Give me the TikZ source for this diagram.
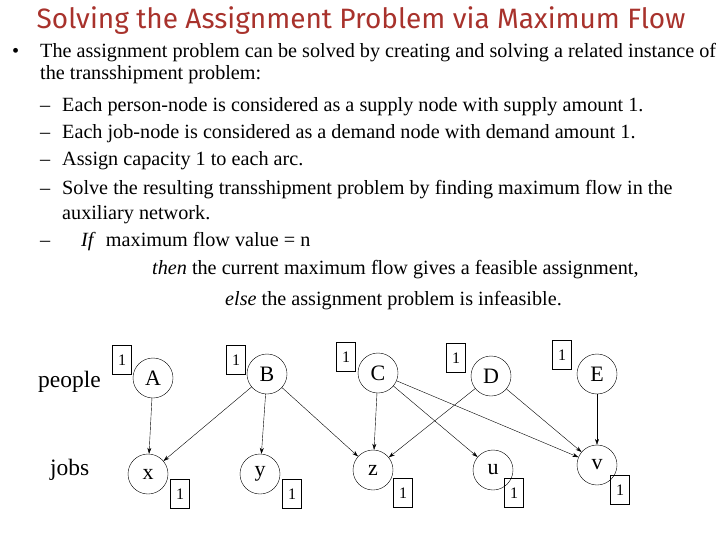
\documentclass[tikz,border=0pt]{standalone}
\usepackage{fontspec}
\setmainfont{Liberation Serif}
\newfontfamily\titlefont{Fira Sans}
\usetikzlibrary{arrows.meta}
\definecolor{titlered}{HTML}{A8322C}
\begin{document}
\begin{tikzpicture}[x=1pt,y=-1pt,
  txt/.style={anchor=base west,inner sep=0pt,font=\fontsize{20.2}{22}\selectfont},
  vtx/.style={circle,draw,minimum size=40pt,inner sep=0pt,font=\fontsize{22}{24}\selectfont},
  capbox/.style={draw,minimum width=19pt,minimum height=29pt,inner sep=0pt,font=\fontsize{16}{17}\selectfont},
  arc/.style={-{Stealth[length=6pt,width=4pt]},thin}]
\useasboundingbox (0,0) rectangle (720,540);
\node[anchor=base,text=titlered,font=\titlefont\fontsize{28}{30}\selectfont] (title) at (361,29) {Solving the Assignment Problem via Maximum Flow};
\node[txt] (b0) at (12,58) {•};
\node[txt] (l1) at (40,58) {The assignment problem can be solved by creating and solving a related instance of};
\node[txt] (l2) at (40,80) {the transshipment problem:};
\node[txt] (d1) at (40,112) {–}; \node[txt] (s1) at (62,112) {Each person-node is considered as a supply node with supply amount 1.};
\node[txt] (d2) at (40,139) {–}; \node[txt] (s2) at (62,139) {Each job-node is considered as a demand node with demand amount 1.};
\node[txt] (d3) at (40,166) {–}; \node[txt] (s3) at (62,166) {Assign capacity 1 to each arc.};
\node[txt] (d4) at (40,195) {–}; \node[txt] (s4) at (62,195) {Solve the resulting transshipment problem by finding maximum flow in the};
\node[txt] (s4b) at (62,220) {auxiliary network.};
\node[txt] (d5) at (40,247) {–}; \node[txt] (s5) at (81,247) {\textit{If}\ \ maximum flow value = n};
\node[txt] (s6) at (152,274) {\textit{then} the current maximum flow gives a feasible assignment,};
\node[txt] (s7) at (225,305) {\textit{else} the assignment problem is infeasible.};

\node[txt,font=\fontsize{23.5}{25}\selectfont] (people) at (38,387) {people};
\node[txt,font=\fontsize{23.5}{25}\selectfont] (jobs) at (50,475) {jobs};

\node[vtx] (A) at (153,378) {A};
\node[vtx] (B) at (267,374) {B};
\node[vtx] (C) at (378,373) {C};
\node[vtx] (D) at (491,376) {D};
\node[vtx] (E) at (597,374) {E};
\node[vtx] (x) at (148,474) {x};
\node[vtx] (y) at (260,474) {y};
\node[vtx] (z) at (373,470) {z};
\node[vtx] (u) at (493,470) {u};
\node[vtx] (v) at (597,465) {v};

\node[capbox] (cA) at (122,360) {1};
\node[capbox] (cB) at (236,360) {1};
\node[capbox] (cC) at (346,357) {1};
\node[capbox] (cD) at (456,358) {1};
\node[capbox] (cE) at (562,355) {1};
\node[capbox] (cx) at (180,494) {1};
\node[capbox] (cy) at (292,494) {1};
\node[capbox] (cz) at (403,493) {1};
\node[capbox] (cu) at (514,493) {1};
\node[capbox] (cv) at (620,490) {1};

\draw[arc] (A) -- (x);
\draw[arc] (B) -- (x);
\draw[arc] (B) -- (y);
\draw[arc] (B) -- (z);
\draw[arc] (C) -- (z);
\draw[arc] (C) -- (u);
\draw[arc] (C) -- (v);
\draw[arc] (D) -- (z);
\draw[arc] (D) -- (v);
\draw[arc] (E) -- (v);
\end{tikzpicture}
\end{document}
